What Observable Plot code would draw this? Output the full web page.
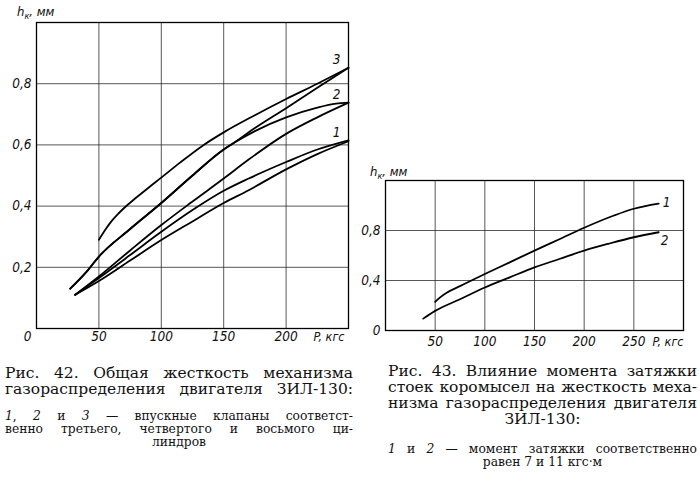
<!DOCTYPE html>
<html><head><meta charset="utf-8">
<script src="https://cdn.jsdelivr.net/npm/d3@7"></script>
<script src="https://cdn.jsdelivr.net/npm/@observablehq/plot@0.6"></script>
<style>
html,body{margin:0;padding:0;background:#fff;}
body{width:700px;height:487px;position:relative;overflow:hidden;font-family:"DejaVu Serif","Liberation Serif",serif;color:#111;}
#fig42{position:absolute;left:0;top:0;}
#fig43{position:absolute;left:360px;top:150px;}
.cap{position:absolute;white-space:nowrap;}
.big{font-size:15.5px;line-height:16px;}
.small{font-size:12.3px;line-height:13.3px;}
.j{text-align:justify;text-align-last:justify;}
.c{text-align:center;}
</style></head><body>
<div id="fig42"></div><div id="fig43"></div>

<div class="cap big j" style="left:5px;top:365px;width:348px;">Рис. 42. Общая жесткость механизма</div>
<div class="cap big j" style="left:5px;top:381px;width:348px;">газораспределения двигателя ЗИЛ-130:</div>
<div class="cap small j" style="left:5px;top:410px;width:348px;"><i>1</i>, <i>2</i> и <i>3</i> — впускные клапаны соответст-</div>
<div class="cap small j" style="left:5px;top:423px;width:348px;">венно третьего, четвертого и восьмого ци-</div>
<div class="cap small c" style="left:5px;top:436px;width:348px;">линдров</div>

<div class="cap big j" style="left:388px;top:363px;width:309px;">Рис. 43. Влияние момента затяжки</div>
<div class="cap big j" style="left:388px;top:379px;width:309px;">стоек коромысел на жесткость меха-</div>
<div class="cap big j" style="left:388px;top:395px;width:309px;">низма газораспределения двигателя</div>
<div class="cap big c" style="left:388px;top:411px;width:309px;">ЗИЛ-130:</div>
<div class="cap small j" style="left:388px;top:443px;width:309px;"><i>1</i> и <i>2</i> — момент затяжки соответственно</div>
<div class="cap small c" style="left:388px;top:456px;width:309px;">равен 7 и 11 кгс·м</div>

<script>
// ---------- Fig. 42 data (P, кгс -> h_к, мм) ----------
const f42_c3a_p = [50, 55, 60, 65, 70, 80, 90, 100, 115, 134, 150, 175, 200, 225, 250];
const f42_c3a_h = [0.29, 0.322, 0.35, 0.373, 0.393, 0.428, 0.461, 0.493, 0.542, 0.60, 0.641, 0.697, 0.75, 0.80, 0.852];
const f42_c3b_p = [27, 40, 50, 75, 100, 125, 150, 158, 175, 200, 225, 250];
const f42_c3b_h = [0.13, 0.185, 0.235, 0.325, 0.41, 0.50, 0.585, 0.606, 0.655, 0.72, 0.787, 0.852];
const f42_c2a_p = [27, 40, 50, 75, 100, 125, 150, 158, 175, 200, 225, 240, 250];
const f42_c2a_h = [0.13, 0.185, 0.235, 0.325, 0.41, 0.50, 0.585, 0.606, 0.645, 0.69, 0.722, 0.735, 0.738];
const f42_c2b_p = [31, 50, 75, 100, 125, 150, 170, 200, 225, 250];
const f42_c2b_h = [0.11, 0.17, 0.255, 0.338, 0.415, 0.49, 0.552, 0.636, 0.69, 0.738];
const f42_c1a_p = [31, 50, 75, 100, 125, 150, 170, 200, 225, 250];
const f42_c1a_h = [0.11, 0.165, 0.24, 0.316, 0.387, 0.45, 0.49, 0.544, 0.585, 0.615];
const f42_c1b_p = [31, 50, 75, 100, 125, 150, 170, 200, 225, 250];
const f42_c1b_h = [0.11, 0.155, 0.222, 0.289, 0.35, 0.41, 0.452, 0.52, 0.57, 0.612];
const f42_xTicks = [50, 100, 150, 200];
const f42_yTicks = [0.2, 0.4, 0.6, 0.8];
const f42_curveLabels = ["3", "2", "1"];

// ---------- Fig. 43 data ----------
const f43_c1_p = [50, 55, 62, 75, 100, 125, 150, 175, 200, 230, 250, 275];
const f43_c1_h = [0.229, 0.265, 0.304, 0.355, 0.452, 0.545, 0.639, 0.73, 0.822, 0.92, 0.974, 1.015];
const f43_c2_p = [38, 50, 75, 100, 125, 150, 175, 200, 225, 250, 275];
const f43_c2_h = [0.095, 0.157, 0.25, 0.344, 0.425, 0.505, 0.572, 0.639, 0.695, 0.746, 0.786];
const f43_xTicks = [50, 100, 150, 200, 250];
const f43_yTicks = [0, 0.4, 0.8];
const f43_curveLabels = ["1", "2"];

const axisTitle = "P, кгс";

const tickFamily = "'Liberation Sans Narrow','DejaVu Sans Condensed','Liberation Sans',sans-serif";
const tickFont = {fontFamily: tickFamily, fontStyle: "italic", fontSize: 13.5, fill: "#111"};
const titleFont = {...tickFont, fontSize: 12.5};
const fmtY = d => d === 0 ? "0" : d.toFixed(1).replace(".", ",");
const toRows = (name, ps, hs) => ps.map((p, i) => ({series: name, p, h: hs[i]}));

const f42Rows = [
  ...toRows("3a", f42_c3a_p, f42_c3a_h),
  ...toRows("3b", f42_c3b_p, f42_c3b_h),
  ...toRows("2a", f42_c2a_p, f42_c2a_h),
  ...toRows("2b", f42_c2b_p, f42_c2b_h),
  ...toRows("1a", f42_c1a_p, f42_c1a_h),
  ...toRows("1b", f42_c1b_p, f42_c1b_h)
];
const f42Ends = [
  {label: f42_curveLabels[0], p: f42_c3a_p.at(-1), h: f42_c3a_h.at(-1)},
  {label: f42_curveLabels[1], p: f42_c2a_p.at(-1), h: f42_c2a_h.at(-1)},
  {label: f42_curveLabels[2], p: f42_c1a_p.at(-1), h: f42_c1a_h.at(-1)}
];

const gridStyle = {stroke: "#222", strokeOpacity: 0.85, strokeWidth: 0.9};
const lineStyle = {stroke: "#000", strokeWidth: 1.8, curve: "monotone-x"};

const chart1 = Plot.plot({
  width: 360, height: 350,
  marginLeft: 36, marginRight: 12, marginTop: 22, marginBottom: 22,
  x: {domain: [0, 250], axis: null},
  y: {domain: [0, 1], axis: null},
  style: {background: "transparent"},
  marks: [
    Plot.gridX(f42_xTicks, gridStyle),
    Plot.gridY(f42_yTicks, gridStyle),
    Plot.frame({stroke: "#000", strokeWidth: 1.3}),
    Plot.line(f42Rows, {x: "p", y: "h", z: "series", ...lineStyle}),
    Plot.text(f42_xTicks, {x: d => d, y: () => 0, text: d => String(d), dy: 8, lineAnchor: "middle", ...tickFont}),
    Plot.text(f42_yTicks, {x: () => 0, y: d => d, text: fmtY, textAnchor: "end", dx: -5, ...tickFont}),
    Plot.text(["0"], {frameAnchor: "bottom-left", text: d => d, textAnchor: "middle", lineAnchor: "middle", dx: -9, dy: 8, ...tickFont}),
    Plot.text([axisTitle], {frameAnchor: "bottom-right", text: d => d, textAnchor: "end", lineAnchor: "middle", dx: -4, dy: 8, ...titleFont}),
    Plot.text(f42Ends, {x: "p", y: "h", text: "label", dx: -12, dy: -8, ...tickFont})
  ]
});
document.getElementById("fig42").appendChild(chart1);

const f43Rows = [
  ...toRows("1", f43_c1_p, f43_c1_h),
  ...toRows("2", f43_c2_p, f43_c2_h)
];
const f43Ends = [
  {label: f43_curveLabels[0], p: f43_c1_p.at(-1), h: f43_c1_h.at(-1)},
  {label: f43_curveLabels[1], p: f43_c2_p.at(-1), h: f43_c2_h.at(-1)}
];

const chart2 = Plot.plot({
  width: 340, height: 200,
  marginLeft: 25, marginRight: 17, marginTop: 30, marginBottom: 20,
  x: {domain: [0, 300], axis: null},
  y: {domain: [0, 1.2], axis: null},
  style: {background: "transparent"},
  marks: [
    Plot.gridX(f43_xTicks, gridStyle),
    Plot.gridY(f43_yTicks.filter(d => d > 0), gridStyle),
    Plot.frame({stroke: "#000", strokeWidth: 1.3}),
    Plot.line(f43Rows, {x: "p", y: "h", z: "series", ...lineStyle}),
    Plot.text(f43_xTicks, {x: d => d, y: () => 0, text: d => String(d), dy: 11, lineAnchor: "middle", ...tickFont}),
    Plot.text(f43_yTicks, {x: () => 0, y: d => d, text: fmtY, textAnchor: "end", dx: -5, ...tickFont}),
    Plot.text([axisTitle], {frameAnchor: "bottom-right", text: d => d, textAnchor: "end", lineAnchor: "middle", dx: 0, dy: 11, ...titleFont}),
    Plot.text(f43Ends.slice(0, 1), {x: "p", y: "h", text: "label", dx: 8, dy: -1, ...tickFont}),
    Plot.text(f43Ends.slice(1), {x: "p", y: "h", text: "label", dx: 6, dy: 8, ...tickFont})
  ]
});
document.getElementById("fig43").appendChild(chart2);

function yTitle(svgNode, x, y) {
  const t = d3.select(svgNode).append("text")
    .attr("x", x).attr("y", y)
    .attr("text-anchor", "start")
    .attr("font-family", tickFamily)
    .attr("font-style", "italic").attr("font-size", 13).attr("fill", "#111");
  t.append("tspan").text("h");
  t.append("tspan").attr("font-size", 9).attr("dy", 3).text("к");
  t.append("tspan").attr("dy", -3).text(", мм");
}
yTitle(chart1, 17, 16);
yTitle(chart2, 10, 26);
</script>
</body></html>
